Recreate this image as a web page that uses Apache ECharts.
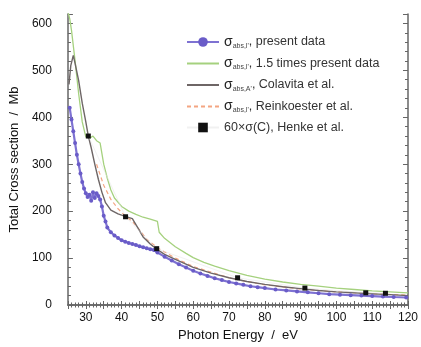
<!DOCTYPE html>
<html><head><meta charset="utf-8">
<script src="https://cdn.jsdelivr.net/npm/echarts@6/dist/echarts.min.js"></script>
<style>html,body{margin:0;padding:0;background:#fff}#c{width:421px;height:347px}</style>
</head><body><div id="c"></div>
<script>
// Photon energy (eV) and cross sections (Mb)
const presentE = [25.5,26,26.5,27,27.5,28,28.5,29,29.5,30,30.5,31,31.5,32,32.5,33,33.5,34,34.5,35,35.5,36,37,38,39,40,41,42,43,44,45,46,47,48,49,50,52,54,56,58,60,62,64,66,68,70,72,74,76,78,80,83,86,89,92,95,98,101,104,107,110,113,116,119.5];
const presentV = [420,395,370,345,320,300,280,262,248,238,230,235,222,240,228,238,232,225,210,190,178,165,155,148,143,138,135,132,130,128,125,123,121,119,117,112,103,95,87,80,73,67,62,57,53,49,46,43,40,38,36,33,31,29,27,25,23,22,21,20,19,18,17,16];

const timesE = [25,25.5,26,27,28,29,30,31,32,33,34,35,36,37,38,40,42,44,46,48,50,50.5,52,55,58,60,63,66,70,75,80,85,90,95,100,105,110,115,120];
const timesV = [625,610,585,520,450,390,358,355,360,350,345,300,270,245,228,210,200,193,187,183,178,155,142,124,110,101,91,83,73,63,55,49,44,40,36,33,30,28,26];

const colavitaE = [25.3,25.8,26.5,27,28,29,30,30.7,31.5,32.5,33.5,34.5,35.5,37,39,41,43,44.5,46,48,50,52,55,60,65,70,75,80,85,90,95,100,105,110,115,120];
const colavitaV = [470,510,532,515,478,430,390,360,335,300,268,240,218,202,194,189,184,165,145,130,118,108,97,80,68,58,50,44,39,35,31,28,26,24,22,20];

const reinkE = [33,35,37,39,41,43,45,47,50,55,60,65,70,75,80,90,100,110,120];
const reinkV = [300,255,225,205,190,178,160,140,122,100,82,70,58,50,43,34,28,24,21];

const henkeE = [30.7,41.1,49.8,72.4,91.2,108.2,113.7];
const henkeV = [360,188,120,58,36,26,25];

const xTicks = [30,40,50,60,70,80,90,100,110,120];
const yTicks = [0,100,200,300,400,500,600];

const names = [
  "{s|σ}{sub|abs,l'}{t|, present data}",
  "{s|σ}{sub|abs,l'}{t|, 1.5 times present data}",
  "{s|σ}{sub|abs,A'}{t|, Colavita et al.}",
  "{s|σ}{sub|abs,l'}{t|, Reinkoester et al.}",
  "{t|60×σ(C), Henke et al.}"
];
const legendNames = ['present','times','colavita','reink','henke'];

function pairs(xs, ys){ return xs.map((x,i)=>[x, ys[i]]); }

const chart = echarts.init(document.getElementById('c'), null, {renderer:'canvas'});
const axisCol = '#666';
const ff = 'Liberation Sans, Arial, sans-serif';
const xAx = (pos, main) => ({
  type:'value', min:25, max:120, interval:5, position:pos,
  axisLine:{show:true, lineStyle:{color:axisCol, width:1.5}},
  axisTick:{inside:true, length:4, lineStyle:{color:axisCol}},
  minorTick:{show:true, splitNumber:5, length:2.5, lineStyle:{color:axisCol}},
  axisLabel: main ? {fontSize:12, color:'#111', margin:7,
      formatter:v=> xTicks.indexOf(v)>=0 ? String(v) : ''} : {show:false},
  splitLine:{show:false}
});
const yAx = (pos, main) => ({
  type:'value', min:0, max:620, interval:100, position:pos,
  axisLine:{show:true, lineStyle:{color:axisCol, width:1.5}},
  axisTick:{inside:true, length:5, lineStyle:{color:axisCol}},
  minorTick:{show:true, splitNumber:5, length:3, lineStyle:{color:axisCol}},
  axisLabel: main ? {fontSize:12, color:'#111', margin:16,
      formatter:v=> yTicks.indexOf(v)>=0 ? String(v) : ''} : {show:false},
  splitLine:{show:false}
});
const x0 = xAx('bottom', true);
x0.name = 'Photon Energy  /  eV'; x0.nameLocation = 'middle'; x0.nameGap = 23;
x0.nameTextStyle = {fontSize:13, color:'#111', fontFamily:ff};
const y0 = yAx('left', true);
y0.name = 'Total Cross section  /  Mb'; y0.nameLocation = 'middle'; y0.nameGap = 37;
y0.nameTextStyle = {fontSize:13, color:'#111', fontFamily:ff};

const legendData = legendNames.map(n => (n==='present'||n==='henke') ? {name:n}
  : {name:n, itemStyle:{opacity:0}});

chart.setOption({
  animation:false,
  backgroundColor:'#fff',
  textStyle:{fontFamily:ff},
  grid:{left:67,right:11,top:14,bottom:42,containLabel:false},
  legend:{
    orient:'vertical', left:181, top:30, itemWidth:32, itemHeight:12, itemGap:7,
    data:legendData,
    formatter: function(n){ return names[legendNames.indexOf(n)]; },
    textStyle:{fontFamily:ff, color:'#333', rich:{
      s:{fontSize:14, fontFamily:ff, color:'#222'},
      sub:{fontSize:7, fontFamily:ff, color:'#444', verticalAlign:'bottom', padding:[8,0,0,0]},
      t:{fontSize:12.5, fontFamily:ff, color:'#333'}
    }}
  },
  xAxis:[x0, xAx('top', false)],
  yAxis:[y0, yAx('right', false)],
  series:[
    {name:'times', type:'line', data:pairs(timesE,timesV), showSymbol:false, symbol:'none',
     lineStyle:{color:'#a5d17e', width:1.3}, itemStyle:{color:'#a5d17e'}, z:2},
    {name:'reink', type:'line', data:pairs(reinkE,reinkV), symbol:'none',
     lineStyle:{color:'#f4a582', width:1.2, type:[4,3]}, itemStyle:{color:'#f4a582'}, z:3},
    {name:'colavita', type:'line', data:pairs(colavitaE,colavitaV), symbol:'none',
     lineStyle:{color:'#6e6666', width:1.4}, itemStyle:{color:'#6e6666'}, z:4},
    {name:'present', type:'line', data:pairs(presentE,presentV), symbol:'circle', symbolSize:4,
     lineStyle:{color:'#7e72d2', width:2.2}, itemStyle:{color:'#6a5cc8'}, z:5},
    {name:'henke', type:'line', data:pairs(henkeE,henkeV), symbol:'rect', symbolSize:5,
     lineStyle:{color:'#e4e4e4', width:1, opacity:0.5}, itemStyle:{color:'#111'}, z:6}
  ]
});
</script></body></html>
